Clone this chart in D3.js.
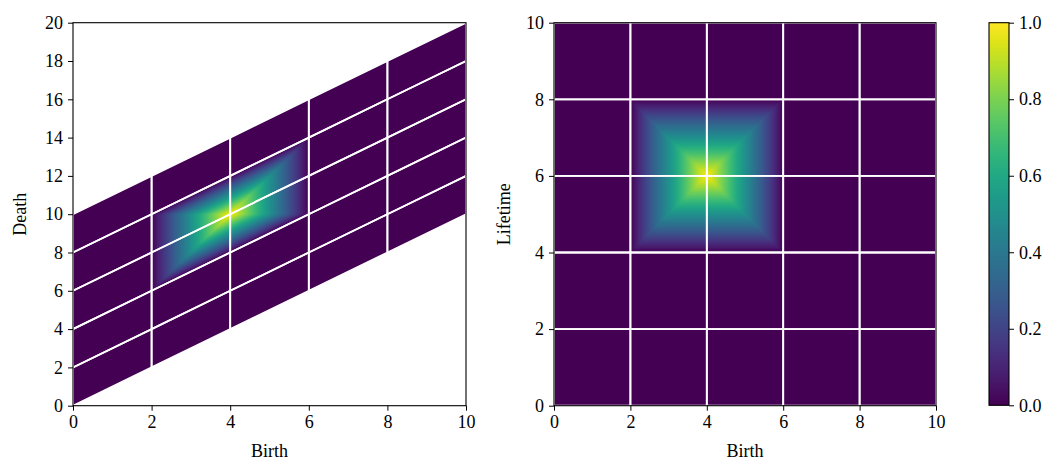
<!DOCTYPE html>
<html><head><meta charset="utf-8">
<script src="https://cdn.jsdelivr.net/npm/d3@7"></script>
<style>
body{margin:0;background:#fff;}
svg text{font-family:"Palatino Linotype",Palatino,"Book Antiqua","Liberation Serif",serif;fill:#000;}
</style></head><body>
<svg id="chart" width="1049" height="461"></svg>
<script>
// ---- data ----
const birthNodes = [0, 2, 4, 6, 8, 10];
const lifetimeNodes = [0, 2, 4, 6, 8, 10];
// intensity[i][j] : value at lifetime = lifetimeNodes[i], birth = birthNodes[j]
const intensity = [
  [0, 0, 0, 0, 0, 0],
  [0, 0, 0, 0, 0, 0],
  [0, 0, 0, 0, 0, 0],
  [0, 0, 1, 0, 0, 0],
  [0, 0, 0, 0, 0, 0],
  [0, 0, 0, 0, 0, 0]
];
const birthTicks = [0, 2, 4, 6, 8, 10];
const deathTicks = [0, 2, 4, 6, 8, 10, 12, 14, 16, 18, 20];
const lifetimeTicks = [0, 2, 4, 6, 8, 10];
const colorbarTicks = [0, 0.2, 0.4, 0.6, 0.8, 1.0];

// ---- layout ----
const svg = d3.select("#chart");
const FS = 18;
const yTop = 22.7, yBot = 405.7;
const color = d3.scaleSequential(d3.interpolateViridis).domain([0, 1]);

// piecewise-linear (triangulated) interpolation of the node grid
function valueAt(b, l) {
  b = Math.max(0, Math.min(10, b));
  l = Math.max(0, Math.min(10, l));
  const j = Math.min(birthNodes.length - 2, Math.max(0, d3.bisectRight(birthNodes, b) - 1));
  const i = Math.min(lifetimeNodes.length - 2, Math.max(0, d3.bisectRight(lifetimeNodes, l) - 1));
  const tb = (b - birthNodes[j]) / (birthNodes[j + 1] - birthNodes[j]);
  const tl = (l - lifetimeNodes[i]) / (lifetimeNodes[i + 1] - lifetimeNodes[i]);
  const v00 = intensity[i][j], v01 = intensity[i][j + 1], v10 = intensity[i + 1][j], v11 = intensity[i + 1][j + 1];
  if (Math.max(v00, v11) >= Math.max(v01, v10)) {
    if (tb >= tl) return v00 + tb * (v01 - v00) + tl * (v11 - v01);
    return v00 + tl * (v10 - v00) + tb * (v11 - v10);
  } else {
    if (tb + tl <= 1) return v00 + tb * (v01 - v00) + tl * (v10 - v00);
    return v11 + (1 - tb) * (v10 - v11) + (1 - tl) * (v01 - v11);
  }
}

function raster(x, y, toBL) {
  const x0 = x.range()[0], x1 = x.range()[1], y0 = y.range()[1], y1 = y.range()[0];
  const ss = 2;
  const w = Math.ceil((x1 - x0) * ss), h = Math.ceil((y1 - y0) * ss);
  const cv = document.createElement("canvas");
  cv.width = w; cv.height = h;
  const ctx = cv.getContext("2d");
  const img = ctx.createImageData(w, h);
  for (let py = 0; py < h; py++) {
    const yv = y.invert(y0 + (py + 0.5) / ss);
    for (let px = 0; px < w; px++) {
      const xv = x.invert(x0 + (px + 0.5) / ss);
      const bl = toBL(xv, yv);
      const c = d3.rgb(color(valueAt(bl[0], bl[1])));
      const k = (py * w + px) * 4;
      img.data[k] = c.r; img.data[k + 1] = c.g; img.data[k + 2] = c.b; img.data[k + 3] = 255;
    }
  }
  ctx.putImageData(img, 0, 0);
  return {href: cv.toDataURL(), x: x0, y: y0, w: x1 - x0, h: y1 - y0};
}

function cellPolys(map) {
  const polys = [];
  for (let i = 0; i < lifetimeNodes.length - 1; i++) {
    for (let j = 0; j < birthNodes.length - 1; j++) {
      const b0 = birthNodes[j], b1 = birthNodes[j + 1], l0 = lifetimeNodes[i], l1 = lifetimeNodes[i + 1];
      polys.push([[b0, l0], [b1, l0], [b1, l1], [b0, l1], [b0, l0]].map(p => map(p[0], p[1])));
    }
  }
  return polys;
}

function drawPanel(g, x, y, toBL, fromBL, xTicks, yTicks, xLabel, yLabel, yLabelX, id) {
  const r = raster(x, y, toBL);
  const outline = [[0, 0], [10, 0], [10, 10], [0, 10]].map(p => fromBL(p[0], p[1]));
  const defs = svg.append("defs");
  defs.append("clipPath").attr("id", "clip" + id)
    .append("path").attr("d", d3.line()(outline.map(p => [x(p[0]), y(p[1])])) + "Z");
  defs.append("clipPath").attr("id", "axclip" + id)
    .append("rect").attr("x", r.x).attr("y", r.y).attr("width", r.w).attr("height", r.h);
  const dg = g.append("g").attr("clip-path", `url(#axclip${id})`);
  dg.append("image").attr("href", r.href).attr("x", r.x).attr("y", r.y)
    .attr("width", r.w).attr("height", r.h).attr("preserveAspectRatio", "none")
    .attr("clip-path", `url(#clip${id})`);
  const line = d3.line().x(d => x(d[0])).y(d => y(d[1]));
  dg.selectAll("path.cell").data(cellPolys(fromBL)).join("path")
    .attr("class", "cell").attr("d", line)
    .attr("fill", "none").attr("stroke", "#fff").attr("stroke-width", 1.8).attr("stroke-linejoin", "miter");
  const xa = g.append("g").attr("transform", `translate(0,${y.range()[0]})`)
    .call(d3.axisBottom(x).tickValues(xTicks).tickFormat(d3.format("d")).tickSize(5).tickPadding(5).tickSizeOuter(0));
  const ya = g.append("g").attr("transform", `translate(${x.range()[0]},0)`)
    .call(d3.axisLeft(y).tickValues(yTicks).tickFormat(d3.format("d")).tickSize(5).tickPadding(5).tickSizeOuter(0));
  [xa, ya].forEach(a => {
    a.select(".domain").remove();
    a.selectAll("text").attr("font-size", FS).attr("fill", "#000");
    a.selectAll("line").attr("stroke", "#000").attr("stroke-width", 1);
  });
  g.append("rect").attr("x", x.range()[0]).attr("y", y.range()[1])
    .attr("width", x.range()[1] - x.range()[0]).attr("height", y.range()[0] - y.range()[1])
    .attr("fill", "none").attr("stroke", "#000").attr("stroke-width", 1.1);
  g.append("text").attr("x", (x.range()[0] + x.range()[1]) / 2).attr("y", 457)
    .attr("text-anchor", "middle").attr("font-size", FS).text(xLabel);
  g.append("text").attr("transform", `translate(${yLabelX},${(yTop + yBot) / 2}) rotate(-90)`)
    .attr("text-anchor", "middle").attr("font-size", FS).text(yLabel);
}

// Left panel: birth vs death
const xL = d3.scaleLinear().domain([0, 10]).range([73, 466]);
const yL = d3.scaleLinear().domain([0, 20]).range([yBot, yTop]);
drawPanel(svg.append("g"), xL, yL,
  (b, d) => [b, d - b], (b, l) => [b, b + l],
  birthTicks, deathTicks, "Birth", "Death", 26, "L");

// Right panel: birth vs lifetime
const xR = d3.scaleLinear().domain([0, 10]).range([554, 936]);
const yR = d3.scaleLinear().domain([0, 10]).range([yBot, yTop]);
drawPanel(svg.append("g"), xR, yR,
  (b, l) => [b, l], (b, l) => [b, l],
  birthTicks, lifetimeTicks, "Birth", "Lifetime", 510, "R");

// Colorbar
const cbY = d3.scaleLinear().domain([0, 1]).range([405.3, yTop]);
const grad = svg.append("defs").append("linearGradient").attr("id", "cbgrad")
  .attr("x1", 0).attr("y1", 1).attr("x2", 0).attr("y2", 0);
d3.range(0, 1.0001, 0.05).forEach(t => grad.append("stop").attr("offset", t).attr("stop-color", color(t)));
const cb = svg.append("g");
cb.append("rect").attr("x", 989).attr("y", yTop).attr("width", 20).attr("height", cbY(0) - yTop)
  .attr("fill", "url(#cbgrad)").attr("stroke", "#000").attr("stroke-width", 1.1);
const cba = cb.append("g").attr("transform", "translate(1009,0)")
  .call(d3.axisRight(cbY).tickValues(colorbarTicks).tickFormat(d3.format(".1f")).tickSize(5).tickPadding(5).tickSizeOuter(0));
cba.select(".domain").remove();
cba.selectAll("text").attr("font-size", FS).attr("fill", "#000");
cba.selectAll("line").attr("stroke", "#000");
</script>
</body></html>
